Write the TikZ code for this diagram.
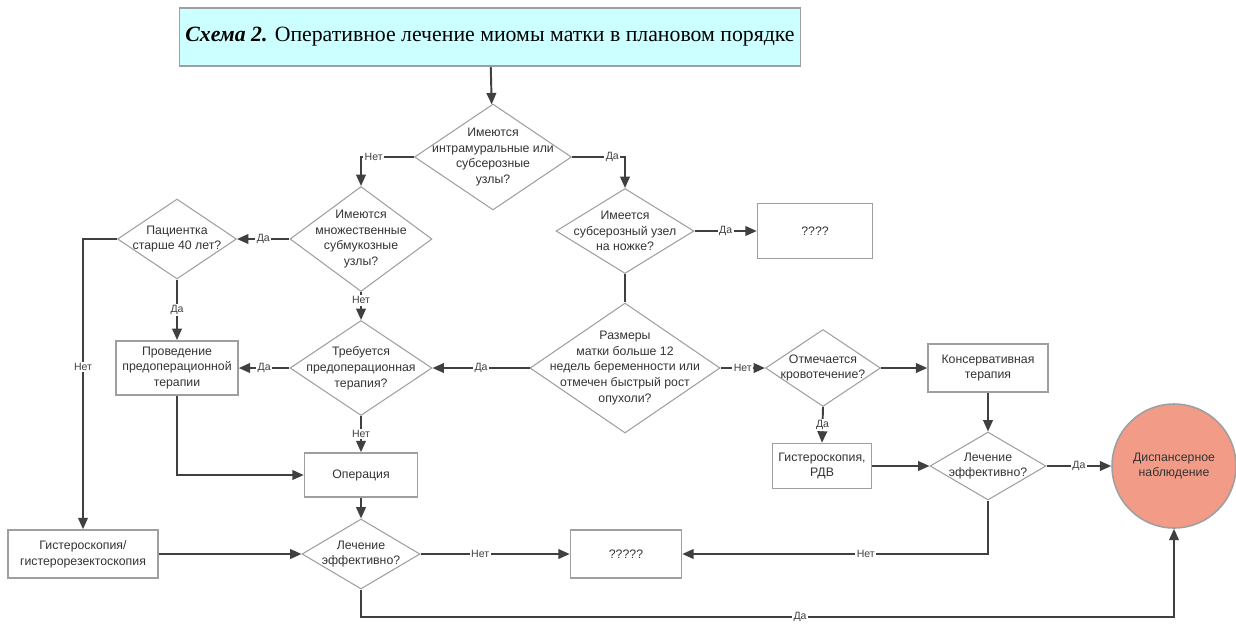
\documentclass[tikz,border=0pt]{standalone}
\usepackage{fontspec}
\setmainfont{Liberation Serif}
\setsansfont{Liberation Sans}
\usetikzlibrary{
  arrows.meta,
  shapes.geometric,
  positioning
}
\definecolor{titlecyan}{HTML}{CCFFFF}
\definecolor{salmon}{HTML}{F29C88}
\newcommand{\qfont}{\sffamily\fontsize{7}{9}\selectfont}
\tikzset{
  decision/.style={
    draw=gray!75, diamond, inner sep=0pt, line width=0.6pt
  },
  qtext/.style={
    align=center, text=black!80, font=\qfont
  },
  stepbox/.style={
    draw=gray!75, rectangle, line width=0.9pt,
    align=center, text=black!80, font=\qfont
  },
  flow/.style={
    -{Triangle[length=6.5pt,width=5.5pt]}, line width=1.1pt, draw=black!75
  },
  link/.style={
    line width=1.1pt, draw=black!75
  },
  answer/.style={
    fill=white, inner sep=0.8pt, text=black!75,
    font=\sffamily\fontsize{6}{7}\selectfont
  },
}

\begin{document}
\begin{tikzpicture}[x=0.02cm, y=-0.02cm]
  \useasboundingbox (0,0) rectangle (1236,623);

  % Title
  \node[draw=gray!75, line width=0.9pt, fill=titlecyan,
    minimum width=12.4cm, minimum height=1.16cm,
    font=\fontsize{12.4}{14}\selectfont] (title) at (490,37)
    {\textbf{\textit{Схема 2.}} Оперативное лечение миомы матки в плановом порядке};

  % Decisions
  \node[decision, minimum width=3.14cm, minimum height=2.12cm,
    label={[qtext]center:Имеются\\интрамуральные или\\субсерозные\\узлы?}]
    (d1) at (493,157) {};
  \node[decision, minimum width=2.84cm, minimum height=2.1cm,
    label={[qtext]center:Имеются\\множественные\\субмукозные\\узлы?}]
    (d2) at (361,239) {};
  \node[decision, minimum width=2.76cm, minimum height=1.7cm,
    label={[qtext]center:Имеется\\субсерозный узел\\на ножке?}]
    (d3) at (625,231) {};
  \node[decision, minimum width=2.38cm, minimum height=1.6cm,
    label={[qtext]center:Пациентка\\старше 40 лет?}]
    (d4) at (177,239) {};
  \node[decision, minimum width=2.84cm, minimum height=1.9cm,
    label={[qtext]center:Требуется\\предоперационная\\терапия?}]
    (d5) at (361,368) {};
  \node[decision, minimum width=2.36cm, minimum height=1.4cm,
    label={[qtext]center:Лечение\\эффективно?}]
    (d6) at (361,554) {};
  \node[decision, minimum width=3.8cm, minimum height=2.6cm,
    label={[qtext]center:Размеры\\матки больше 12\\недель беременности или\\отмечен быстрый рост\\опухоли?}]
    (d7) at (625,368) {};
  \node[decision, minimum width=2.3cm, minimum height=1.54cm,
    label={[qtext]center:Отмечается\\кровотечение?}]
    (d8) at (823,368) {};
  \node[decision, minimum width=2.32cm, minimum height=1.36cm,
    label={[qtext]center:Лечение\\эффективно?}]
    (d9) at (988,466) {};

  % Boxes
  \node[stepbox, minimum width=2.3cm, minimum height=1.1cm] (q4) at (815,231) {????};
  \node[stepbox, minimum width=2.44cm, minimum height=1cm] (preop) at (177,368)
    {Проведение\\предоперационной\\терапии};
  \node[stepbox, minimum width=2.26cm, minimum height=0.88cm] (oper) at (361,475) {Операция};
  \node[stepbox, minimum width=3cm, minimum height=0.96cm] (hyst) at (83,554)
    {Гистероскопия/\\гистерорезектоскопия};
  \node[stepbox, minimum width=2.22cm, minimum height=0.96cm] (q5) at (626,554) {?????};
  \node[stepbox, minimum width=2.4cm, minimum height=0.96cm] (cons) at (988,368)
    {Консервативная\\терапия};
  \node[stepbox, minimum width=1.9cm, minimum height=0.9cm] (rdv) at (822,466)
    {Гистероскопия,\\РДВ};
  \node[circle, draw=gray!75, line width=0.9pt, fill=salmon, minimum size=2.48cm,
    align=center, text=black!80, font=\qfont] (circ) at (1174,466)
    {Диспансерное\\наблюдение};

  \coordinate (yesbend) at (361,617);

  % Connectors
  \draw[flow] (title) -- (d1);
  \draw[flow] (d1.west) -| node[answer, pos=0.38]{Нет} (d2.north);
  \draw[flow] (d1.east) -| node[answer, pos=0.38]{Да} (d3.north);
  \draw[flow] (d2.west) -- node[answer]{Да} (d4.east);
  \draw[flow] (d4.west) -| node[answer, pos=0.72]{Нет} (hyst.north);
  \draw[flow] (d4.south) -- node[answer]{Да} (preop.north);
  \draw[flow] (d2.south) -- node[answer, pos=0.3]{Нет} (d5.north);
  \draw[flow] (d5.west) -- node[answer]{Да} (preop.east);
  \draw[flow] (preop.south) |- (oper.west);
  \draw[flow] (d5.south) -- node[answer]{Нет} (oper.north);
  \draw[flow] (oper.south) -- (d6.north);
  \draw[flow] (hyst.east) -- (d6.west);
  \draw[flow] (d6.east) -- node[answer, pos=0.4]{Нет} (q5.west);
  \draw[flow] (d6.south) -- (yesbend) -| node[answer, pos=0.27]{Да} (circ.south);
  \draw[link] (d3.south) -- (d7.north);
  \draw[flow] (d3.east) -- node[answer]{Да} (q4.west);
  \draw[flow] (d7.west) -- node[answer]{Да} (d5.east);
  \draw[flow] (d7.east) -- node[answer]{Нет} (d8.west);
  \draw[flow] (d8.east) -- (cons.west);
  \draw[flow] (d8.south) -- node[answer]{Да} (rdv.north);
  \draw[flow] (cons.south) -- (d9.north);
  \draw[flow] (rdv.east) -- (d9.west);
  \draw[flow] (d9.east) -- node[answer]{Да} (circ.west);
  \draw[flow] (d9.south) |- node[answer, pos=0.7]{Нет} (q5.east);

\end{tikzpicture}
\end{document}
